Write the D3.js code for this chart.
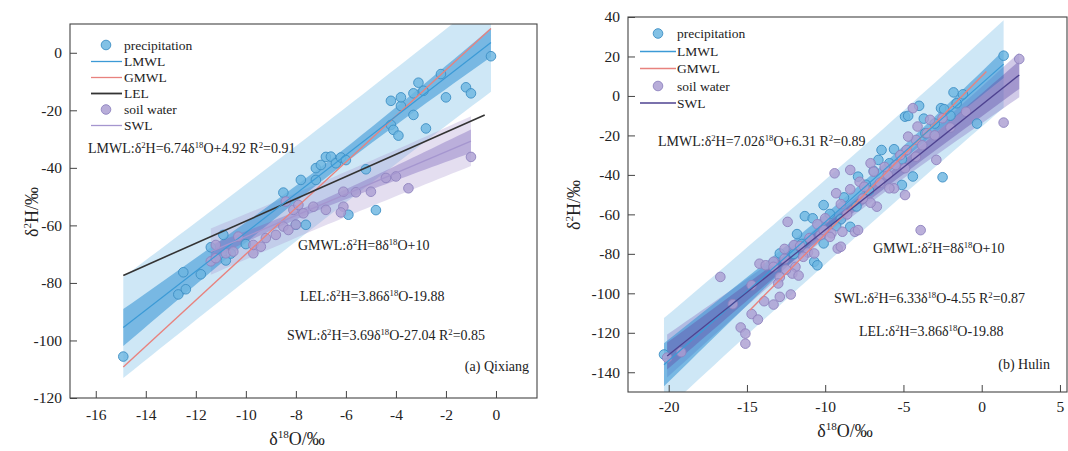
<!DOCTYPE html>
<html><head><meta charset="utf-8">
<script src="https://cdn.jsdelivr.net/npm/d3@7"></script>
<style>
body{margin:0;background:#fff}
svg{display:block}
text{font-family:"Liberation Serif","Times New Roman","DejaVu Serif",serif;fill:#222}
</style>
</head><body>
<svg id="c" width="1068" height="451"></svg>
<script>
// ---------------- DATA ----------------
// (a) Qixiang
const qxPrecip = [
 [-14.9,-105.6],[-12.7,-84.0],[-12.4,-82.2],[-12.5,-76.3],[-11.8,-77.0],[-11.4,-67.6],
 [-10.9,-63.3],[-10.8,-72.2],[-10.6,-69.8],[-10.0,-66.5],[-8.0,-59.8],[-8.5,-48.6],
 [-7.8,-44.2],[-7.2,-44.2],[-7.2,-40.1],[-7.0,-39.0],[-6.8,-36.2],[-6.6,-36.1],
 [-6.4,-38.4],[-6.2,-36.4],[-6.0,-37.3],[-7.6,-59.8],[-5.9,-56.3],[-5.2,-40.5],
 [-4.8,-54.7],[-4.2,-25.1],[-4.1,-26.8],[-3.9,-28.8],[-2.8,-26.3],[-3.3,-21.6],
 [-3.8,-18.5],[-3.8,-15.5],[-4.2,-16.7],[-3.3,-14.1],[-2.9,-13.2],[-3.1,-10.4],
 [-2.2,-7.4],[-2.0,-15.5],[-1.2,-12.0],[-1.0,-14.1],[-0.2,-1.2]
];
const qxSoil = [
 [-11.4,-72.5],[-11.2,-71.4],[-11.2,-66.8],[-10.8,-69.7],[-10.5,-69.1],[-10.3,-63.9],
 [-9.7,-69.7],[-9.7,-66.8],[-9.4,-67.4],[-9.2,-64.4],[-8.8,-63.3],[-8.5,-60.4],
 [-8.3,-61.6],[-8.0,-59.7],[-8.4,-51.7],[-8.1,-54.6],[-7.9,-52.9],[-7.7,-55.8],
 [-7.3,-53.5],[-6.8,-54.6],[-6.1,-48.3],[-6.1,-53.5],[-6.2,-55.5],[-5.6,-48.5],
 [-5.0,-48.3],[-4.4,-43.5],[-4.0,-43.0],[-3.5,-47.1],[-1.0,-36.2]
];
const qxLMWL = [6.74, 4.92];
const qxGMWL = [8, 10];
const qxLEL  = [3.86, -19.88];
const qxSWL  = [3.69, -27.04];
const qxXTicks = [-16,-14,-12,-10,-8,-6,-4,-2,0];
const qxYTicks = [-120,-100,-80,-60,-40,-20,0];
const qxXDomain = [-17.03, 1.64];
const qxYDomain = [-120, 10];
const qxTexts = [
 "LMWL:δ^{2}H=6.74δ^{18}O+4.92 R^{2}=0.91",
 "GMWL:δ^{2}H=8δ^{18}O+10",
 "LEL:δ^{2}H=3.86δ^{18}O-19.88",
 "SWL:δ^{2}H=3.69δ^{18}O-27.04 R^{2}=0.85",
 "(a) Qixiang"
];

// (b) Hulin
const hlPrecip = [
 [-20.3,-131.0],[-11.3,-60.9],[-10.8,-62.0],[-10.1,-55.3],[-10.7,-84.0],[-10.5,-85.8],
 [-10.1,-74.7],[-12.9,-79.8],[-11.5,-75.0],[-9.7,-59.8],[-8.8,-51.4],[-8.4,-66.3],
 [-9.0,-62.5],[-7.9,-40.9],[-7.4,-45.0],[-6.6,-32.4],[-6.4,-27.4],[-5.9,-34.1],
 [-5.6,-27.0],[-5.1,-32.1],[-5.1,-45.1],[-4.4,-40.8],[-4.9,-10.5],[-4.7,-10.1],
 [-4.0,-5.0],[-3.7,-11.5],[-3.6,-18.9],[-2.6,-6.2],[-2.4,-6.7],[-2.5,-41.2],
 [-1.8,1.8],[-1.2,0.8],[-1.6,-3.7],[-0.3,-14.0],[1.4,20.4],[-6.9,-38.0],
 [-7.2,-48.0],[-8.0,-56.0],[-9.3,-66.0],[-11.8,-70.0],[-12.0,-80.0],[-3.0,-14.0],
 [-2.0,-10.0]
];
const hlSoil = [
 [-20.1,-132.6],[-19.2,-129.8],[-16.7,-91.7],[-15.9,-105.5],[-15.4,-117.3],[-15.1,-120.4],
 [-15.1,-125.5],[-14.7,-110.5],[-14.3,-113.3],[-14.7,-95.9],[-13.9,-104.0],[-13.3,-105.7],
 [-12.9,-101.8],[-12.2,-100.6],[-14.2,-85.0],[-13.8,-85.8],[-13.3,-84.0],[-12.9,-91.8],
 [-12.6,-82.5],[-12.6,-77.5],[-12.0,-75.6],[-11.9,-86.6],[-12.1,-90.0],[-11.7,-91.0],
 [-11.1,-79.3],[-10.3,-70.5],[-9.6,-69.6],[-9.2,-77.3],[-8.9,-68.8],[-8.1,-68.8],
 [-10.7,-79.8],[-11.4,-81.5],[-9.0,-76.4],[-13.3,-86.6],[-12.4,-63.8],[-10.1,-68.0],
 [-9.7,-71.4],[-9.3,-49.3],[-8.4,-47.3],[-9.0,-54.8],[-9.4,-39.2],[-8.4,-37.5],
 [-7.1,-34.1],[-6.9,-38.4],[-7.8,-43.5],[-7.5,-46.0],[-6.7,-56.1],[-7.1,-54.1],
 [-5.6,-46.8],[-5.9,-46.8],[-4.9,-50.2],[-4.9,-36.6],[-4.2,-30.8],[-2.9,-32.4],
 [-3.9,-68.0],[-7.9,-68.0],[-4.8,-27.4],[-4.2,-22.3],[-3.5,-18.9],[-4.4,-6.2],
 [-3.3,-12.1],[-4.1,-15.5],[-4.7,-20.6],[-2.5,-11.3],[1.4,-13.5],[2.4,18.7],
 [-10.5,-65.0],[-11.0,-72.0],[-8.6,-60.0],[-7.6,-52.0],[-6.5,-44.0],[-6.0,-40.0],
 [-5.5,-35.0],[-5.2,-30.0],[-3.8,-25.0],[-3.0,-20.0],[-2.0,-16.0],[-1.0,-8.0],
 [-10.0,-62.0],[-11.6,-76.0],[-13.0,-95.0],[-12.5,-88.0],[-6.2,-36.0]
];
const hlLMWL = [7.02, 6.31];
const hlGMWL = [8, 10];
const hlGMWLRange = [-14.8, 0.3];
const hlSWL  = [6.33, -4.55];
const hlXTicks = [-20,-15,-10,-5,0,5];
const hlYTicks = [-140,-120,-100,-80,-60,-40,-20,0,20,40];
const hlXDomain = [-22.6, 5.45];
const hlYDomain = [-150, 40];
const hlTexts = [
 "LMWL:δ^{2}H=7.02δ^{18}O+6.31 R^{2}=0.89",
 "GMWL:δ^{2}H=8δ^{18}O+10",
 "SWL:δ^{2}H=6.33δ^{18}O-4.55 R^{2}=0.87",
 "LEL:δ^{2}H=3.86δ^{18}O-19.88",
 "(b) Hulin"
];
const xTitle = "δ^{18}O/‰";
const yTitle = "δ^{2}H/‰";

// ---------------- STYLE ----------------
const FONT = '"Liberation Serif","Times New Roman","DejaVu Serif",serif';
const C = {
  pFill:"#6cb6e0", pStroke:"#3d8ec4",
  sFill:"#ac9fd2", sStroke:"#8f83bf",
  lmwl:"#3c9ad6", gmwl:"#e8827e", lel:"#333333",
  swlA:"#a596cf", swlB:"#4e4290",
  bandPB:"rgba(120,188,230,0.36)", bandCB:"rgba(50,145,212,0.55)",
  bandPS:"rgba(165,145,205,0.30)", bandCS:"rgba(130,110,190,0.42)",
  bandPS2:"rgba(135,115,195,0.38)", bandCS2:"rgba(100,80,170,0.42)"
};

const svg = d3.select("#c");

function rich(sel, str, fs){
  sel.style("font-family", FONT);
  const parts = str.split(/(\^\{[^}]*\})/);
  let raised = false;
  parts.forEach(p=>{
    if(!p) return;
    if(p.startsWith("^{")){
      sel.append("tspan").attr("font-size", fs*0.62).attr("dy", -fs*0.38).text(p.slice(2,-1));
      raised = true;
    } else {
      const t = sel.append("tspan").text(p);
      if(raised){ t.attr("dy", fs*0.38); raised=false; }
    }
  });
}

// regression bands around the stated line; kind "p" = prediction, "c" = confidence
function bandData(pts, coef, xr, k){
  const n = pts.length;
  const xm = d3.mean(pts, d=>d[0]);
  const sxx = d3.sum(pts, d=>(d[0]-xm)**2);
  const s = Math.sqrt(d3.sum(pts, d=>(d[1]-(coef[0]*d[0]+coef[1]))**2)/(n-2));
  const t = 2.0;
  return d3.range(41).map(i=>{
    const x = xr[0]+(xr[1]-xr[0])*i/40;
    const yh = coef[0]*x+coef[1];
    const se2 = 1/n + (x-xm)**2/sxx;
    const h = k==="p" ? t*s*Math.sqrt(1+se2) : k*t*s*Math.sqrt(se2);
    return {x, yh, h};
  });
}

function panel(cfg){
  const g = svg.append("g");
  const X = d3.scaleLinear().domain(cfg.xDomain).range([cfg.box[0], cfg.box[1]]);
  const Y = d3.scaleLinear().domain(cfg.yDomain).range([cfg.box[3], cfg.box[2]]);
  const clipId = "clip"+cfg.id;
  svg.append("clipPath").attr("id", clipId).append("rect")
    .attr("x", cfg.box[0]).attr("y", cfg.box[2])
    .attr("width", cfg.box[1]-cfg.box[0]).attr("height", cfg.box[3]-cfg.box[2]);
  const plot = g.append("g").attr("clip-path", `url(#${clipId})`);

  const area = d3.area().x(d=>X(d.x)).y0(d=>Y(d.yh-d.h)).y1(d=>Y(d.yh+d.h));
  const line = d3.line().x(d=>X(d[0])).y(d=>Y(d[1]));

  const pr = d3.extent(cfg.precip, d=>d[0]);
  const sr = d3.extent(cfg.soil, d=>d[0]);

  plot.append("path").datum(bandData(cfg.precip, cfg.lmwl, pr, "p")).attr("d", area).attr("fill", C.bandPB);
  plot.append("path").datum(bandData(cfg.soil, cfg.swl, sr, cfg.soilOuter)).attr("d", area).attr("fill", cfg.bandPS);
  plot.append("path").datum(bandData(cfg.precip, cfg.lmwl, pr, 1)).attr("d", area).attr("fill", C.bandCB);
  plot.append("path").datum(bandData(cfg.soil, cfg.swl, sr, 1)).attr("d", area).attr("fill", cfg.bandCS);

  const addPts = (pts, fill, stroke)=>plot.append("g").selectAll("circle").data(pts).join("circle")
    .attr("cx", d=>X(d[0])).attr("cy", d=>Y(d[1])).attr("r", 4.8)
    .attr("fill", fill).attr("fill-opacity", 0.82).attr("stroke", stroke).attr("stroke-width", 0.9);
  addPts(cfg.precip, C.pFill, C.pStroke);
  addPts(cfg.soil, C.sFill, C.sStroke);

  const seg = (coef, xr)=>[[xr[0], coef[0]*xr[0]+coef[1]],[xr[1], coef[0]*xr[1]+coef[1]]];
  plot.append("path").attr("d", line(seg(cfg.gmwl, cfg.gmwlRange || pr))).attr("stroke", C.gmwl).attr("stroke-width", 1.4).attr("fill","none");
  if(cfg.lel) plot.append("path").attr("d", line(seg(cfg.lel, [pr[0], pr[1]-0.25]))).attr("stroke", C.lel).attr("stroke-width", 1.6).attr("fill","none");
  plot.append("path").attr("d", line(seg(cfg.lmwl, pr))).attr("stroke", C.lmwl).attr("stroke-width", 1.2).attr("fill","none");
  plot.append("path").attr("d", line(seg(cfg.swl, sr))).attr("stroke", cfg.swlColor).attr("stroke-width", 1.3).attr("fill","none");

  // frame
  g.append("rect").attr("x", cfg.box[0]).attr("y", cfg.box[2])
    .attr("width", cfg.box[1]-cfg.box[0]).attr("height", cfg.box[3]-cfg.box[2])
    .attr("fill","none").attr("stroke","#444").attr("stroke-width",1.1);

  // axes (ticks inward)
  const fmt = d=>String(d);
  const xa = g.append("g").attr("transform", `translate(0,${cfg.box[3]})`)
    .call(d3.axisBottom(X).tickValues(cfg.xTicks).tickSize(-7).tickPadding(cfg.xPad).tickFormat(fmt));
  const ya = g.append("g").attr("transform", `translate(${cfg.box[0]},0)`)
    .call(d3.axisLeft(Y).tickValues(cfg.yTicks).tickSize(-7).tickPadding(8).tickFormat(fmt));
  [xa, ya].forEach(a=>{
    a.select(".domain").remove();
    a.selectAll("line").attr("stroke","#444");
    a.selectAll("text").attr("font-size", 15.5).style("font-family", FONT).attr("fill","#222");
  });

  // axis titles
  rich(g.append("text").attr("x", cfg.xTitlePos[0]).attr("y", cfg.xTitlePos[1]).attr("text-anchor","middle").attr("font-size",18), xTitle, 18);
  rich(g.append("text").attr("transform", `translate(${cfg.yTitlePos[0]},${cfg.yTitlePos[1]}) rotate(-90)`).attr("text-anchor","middle").attr("font-size",18), yTitle, 18);

  // equation texts
  cfg.texts.forEach((s,i)=>{
    const p = cfg.textPos[i];
    const t = g.append("text").attr("x", p[0]).attr("y", p[1]).attr("font-size", 14).attr("text-anchor", p[2]||"start");
    rich(t, s, 14);
  });

  // legend
  cfg.legend.forEach(e=>{
    const y = e.y;
    if(e.type==="circle"){
      g.append("circle").attr("cx", cfg.legX[1]).attr("cy", y).attr("r", 4.8)
        .attr("fill", e.fill).attr("fill-opacity",0.85).attr("stroke", e.stroke).attr("stroke-width",0.9);
    } else {
      g.append("line").attr("x1", cfg.legX[0]).attr("x2", cfg.legX[2]).attr("y1", y).attr("y2", y)
        .attr("stroke", e.color).attr("stroke-width", e.w||1.3);
    }
    g.append("text").attr("x", cfg.legX[3]).attr("y", y+4.5).attr("font-size", 13.5).style("font-family", FONT).text(e.label);
  });
}

panel({
  id:"a", box:[70,537,24,398], xDomain:qxXDomain, yDomain:qxYDomain,
  precip:qxPrecip, soil:qxSoil, lmwl:qxLMWL, gmwl:qxGMWL, lel:qxLEL, swl:qxSWL,
  swlColor:C.swlA, bandPS:C.bandPS, bandCS:C.bandCS, soilOuter:"p",
  xTicks:qxXTicks, yTicks:qxYTicks, xPad:11,
  xTitlePos:[297,445], yTitlePos:[38,212],
  texts:qxTexts,
  textPos:[[88,153],[298,250],[300,301],[287,340],[529,371,"end"]],
  legX:[91,106,122,124],
  legend:[
    {type:"circle", y:45, fill:C.pFill, stroke:C.pStroke, label:"precipitation"},
    {type:"line", y:61.5, color:C.lmwl, label:"LMWL"},
    {type:"line", y:77.5, color:C.gmwl, label:"GMWL"},
    {type:"line", y:93.5, color:C.lel, w:1.8, label:"LEL"},
    {type:"circle", y:109.5, fill:C.sFill, stroke:C.sStroke, label:"soil water"},
    {type:"line", y:125.5, color:C.swlA, label:"SWL"}
  ]
});

panel({
  id:"b", box:[628,1067,17,392], xDomain:hlXDomain, yDomain:hlYDomain,
  precip:hlPrecip, soil:hlSoil, lmwl:hlLMWL, gmwl:hlGMWL, gmwlRange:hlGMWLRange, lel:null, swl:hlSWL,
  swlColor:C.swlB, bandPS:C.bandPS2, bandCS:C.bandCS2, soilOuter:1.6,
  xTicks:hlXTicks, yTicks:hlYTicks, xPad:9,
  xTitlePos:[845,437], yTitlePos:[580,205],
  texts:hlTexts,
  textPos:[[658,146],[873,253],[834,303],[859,336],[1050,369,"end"]],
  legX:[640,658,676,677],
  legend:[
    {type:"circle", y:33.5, fill:C.pFill, stroke:C.pStroke, label:"precipitation"},
    {type:"line", y:51.5, color:C.lmwl, label:"LMWL"},
    {type:"line", y:68.5, color:C.gmwl, label:"GMWL"},
    {type:"circle", y:86, fill:C.sFill, stroke:C.sStroke, label:"soil water"},
    {type:"line", y:103, color:C.swlB, label:"SWL"}
  ]
});
</script>
</body></html>
